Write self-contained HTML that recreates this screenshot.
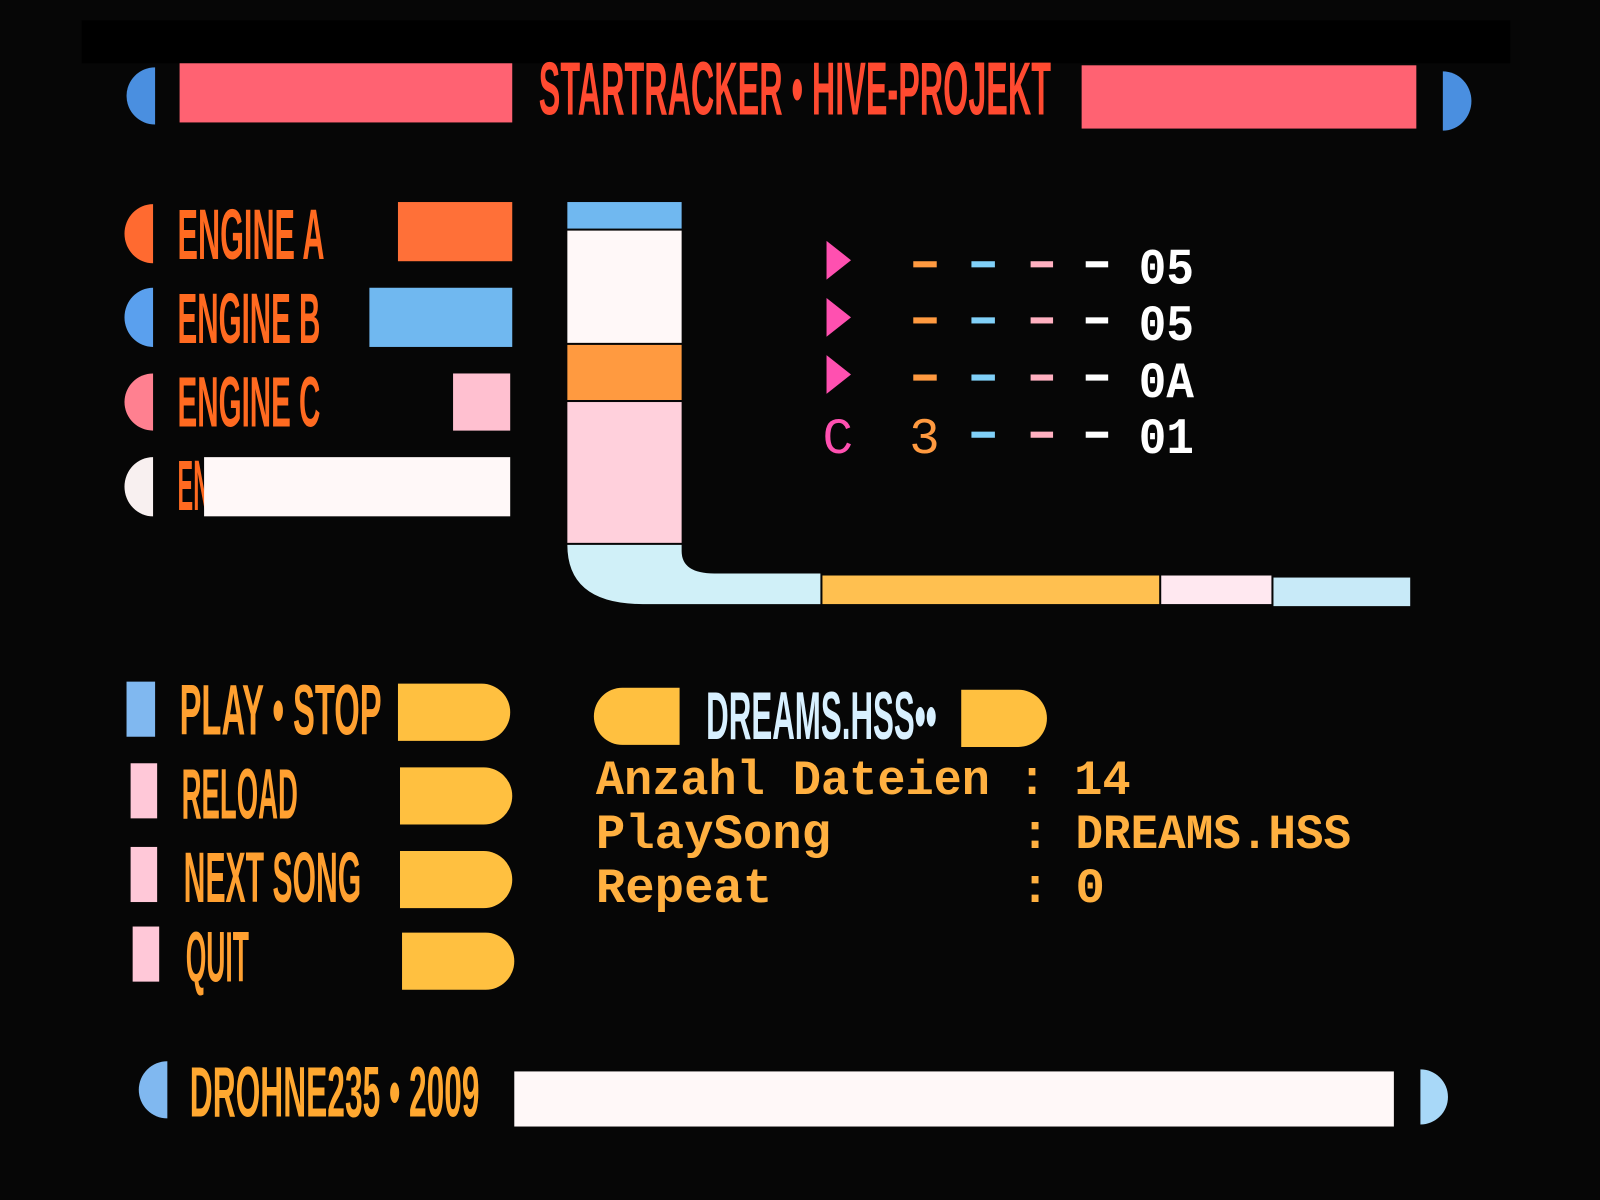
<!DOCTYPE html>
<html><head><meta charset="utf-8"><style>
html,body{margin:0;padding:0;background:#060606;}
svg{display:block}
.c{font-family:"Liberation Sans Narrow","Liberation Sans",sans-serif;font-weight:bold;}
.m{font-family:"Liberation Mono",monospace;}
</style></head><body>
<svg width="1600" height="1200" viewBox="0 0 1568 1176" xmlns="http://www.w3.org/2000/svg">
<rect width="1568" height="1176" fill="#060606"/>
<rect x="80" y="20" width="1400" height="42" fill="#000"/>
<!-- top -->
<path d="M152 66 A28 28 0 0 0 152 122 Z" fill="#4a8fe0"/>
<rect x="176" y="62" width="326" height="58" fill="#ff6272"/>
<text class="c" x="528" y="112" font-size="74" fill="#ff4a30" textLength="502" lengthAdjust="spacingAndGlyphs">STARTRACKER • HIVE-PROJEKT</text>
<rect x="1060" y="64" width="328" height="62" fill="#ff6272"/>
<path d="M1414 70 A28 29 0 0 1 1414 128 Z" fill="#4a8fe0"/>
<!-- engines -->
<path d="M150 200 A28 29 0 0 0 150 258 Z" fill="#ff6a30"/>
<text class="c" x="174" y="254" font-size="70" fill="#ff6a20" textLength="144" lengthAdjust="spacingAndGlyphs">ENGINE A</text>
<rect x="390" y="198" width="112" height="58" fill="#ff7038"/>
<path d="M150 282 A28 29 0 0 0 150 340 Z" fill="#5aa0ee"/>
<text class="c" x="174" y="336" font-size="70" fill="#ff6a20" textLength="140" lengthAdjust="spacingAndGlyphs">ENGINE B</text>
<rect x="362" y="282" width="140" height="58" fill="#70b8f0"/>
<path d="M150 366 A28 28 0 0 0 150 422 Z" fill="#ff8090"/>
<text class="c" x="174" y="418" font-size="70" fill="#ff6a20" textLength="140" lengthAdjust="spacingAndGlyphs">ENGINE C</text>
<rect x="444" y="366" width="56" height="56" fill="#ffc0d0"/>
<path d="M150 448 A28 29 0 0 0 150 506 Z" fill="#f8f0f0"/>
<text class="c" x="174" y="500" font-size="70" fill="#ff6a20" textLength="32" lengthAdjust="spacingAndGlyphs">EN</text>
<rect x="200" y="448" width="300" height="58" fill="#fff8f8"/>
<!-- elbow -->
<rect x="556" y="198" width="112" height="26" fill="#70b8f0"/>
<rect x="556" y="226" width="112" height="110" fill="#fff8f8"/>
<rect x="556" y="338" width="112" height="54" fill="#ff9a40"/>
<rect x="556" y="394" width="112" height="138" fill="#ffd0dc"/>
<path d="M556 534 L668 534 L668 540 Q668 562 700 562 L804 562 L804 592 L630 592 Q556 592 556 534 Z" fill="#d0f0f8"/>
<rect x="806" y="564" width="330" height="28" fill="#ffc050"/>
<rect x="1138" y="564" width="108" height="28" fill="#ffe8f0"/>
<rect x="1248" y="566" width="134" height="28" fill="#c8eaf8"/>
<!-- tracker -->
<g fill="#ff50b0">
<path d="M810 236 L834 255 L810 274 Z"/>
<path d="M810 292 L834 311 L810 330 Z"/>
<path d="M810 348 L834 367 L810 386 Z"/>
</g>
<g>
<rect x="895" y="256" width="23" height="6" fill="#ff9a40"/><rect x="952" y="256" width="23" height="6" fill="#80d0f8"/><rect x="1010" y="256" width="22" height="6" fill="#ffb0c0"/><rect x="1064" y="256" width="22" height="6" fill="#fff"/>
<rect x="895" y="311" width="23" height="6" fill="#ff9a40"/><rect x="952" y="311" width="23" height="6" fill="#80d0f8"/><rect x="1010" y="311" width="22" height="6" fill="#ffb0c0"/><rect x="1064" y="311" width="22" height="6" fill="#fff"/>
<rect x="895" y="367" width="23" height="6" fill="#ff9a40"/><rect x="952" y="367" width="23" height="6" fill="#80d0f8"/><rect x="1010" y="367" width="22" height="6" fill="#ffb0c0"/><rect x="1064" y="367" width="22" height="6" fill="#fff"/>
<rect x="952" y="423" width="23" height="6" fill="#80d0f8"/><rect x="1010" y="423" width="22" height="6" fill="#ffb0c0"/><rect x="1064" y="423" width="22" height="6" fill="#fff"/>
</g>
<g class="m" font-size="50" fill="#fff" font-weight="bold">
<text x="1116" y="278" textLength="54" lengthAdjust="spacingAndGlyphs">05</text>
<text x="1116" y="333" textLength="54" lengthAdjust="spacingAndGlyphs">05</text>
<text x="1116" y="389" textLength="54" lengthAdjust="spacingAndGlyphs">0A</text>
<text x="1116" y="444" textLength="54" lengthAdjust="spacingAndGlyphs">01</text>
<text x="806" y="444" fill="#ff50b0" font-weight="normal">C</text>
<text x="891" y="444" fill="#ff9a40" font-weight="normal">3</text>
</g>
<!-- buttons -->
<rect x="124" y="668" width="28" height="54" fill="#80b8f0"/>
<rect x="128" y="748" width="26" height="54" fill="#ffc8d8"/>
<rect x="128" y="830" width="26" height="54" fill="#ffc8d8"/>
<rect x="130" y="908" width="26" height="54" fill="#ffc8d8"/>
<g class="c" font-size="70" fill="#ffa030">
<text x="176" y="720" textLength="198" lengthAdjust="spacingAndGlyphs">PLAY • STOP</text>
<text x="178" y="802" textLength="114" lengthAdjust="spacingAndGlyphs">RELOAD</text>
<text x="180" y="884" textLength="174" lengthAdjust="spacingAndGlyphs">NEXT SONG</text>
<text x="182" y="962" textLength="62" lengthAdjust="spacingAndGlyphs">QUIT</text>
</g>
<g fill="#ffc040">
<path d="M390 670 L472 670 A28 28 0 0 1 472 726 L390 726 Z"/>
<path d="M392 752 L474 752 A28 28 0 0 1 474 808 L392 808 Z"/>
<path d="M392 834 L474 834 A28 28 0 0 1 474 890 L392 890 Z"/>
<path d="M394 914 L476 914 A28 28 0 0 1 476 970 L394 970 Z"/>
<path d="M666 674 L610 674 A28 28 0 0 0 610 730 L666 730 Z"/>
<path d="M942 676 L998 676 A28 28 0 0 1 998 732 L942 732 Z"/>
</g>
<text class="c" x="692" y="724" font-size="66" fill="#d8f0ff" textLength="226" lengthAdjust="spacingAndGlyphs">DREAMS.HSS••</text>
<g class="m" font-size="48" fill="#ffb040" font-weight="bold">
<text x="584" y="778" textLength="524" lengthAdjust="spacingAndGlyphs">Anzahl Dateien : 14</text>
<text x="584" y="831">PlaySong</text>
<text x="1000" y="831">:</text>
<text x="1054" y="831" textLength="270" lengthAdjust="spacingAndGlyphs">DREAMS.HSS</text>
<text x="584" y="884">Repeat</text>
<text x="1000" y="884">:</text>
<text x="1054" y="884">0</text>
</g>
<!-- footer -->
<path d="M164 1040 A28 28 0 0 0 164 1096 Z" fill="#80b8f0"/>
<text class="c" x="186" y="1094" font-size="70" fill="#ffa830" textLength="284" lengthAdjust="spacingAndGlyphs">DROHNE235 • 2009</text>
<rect x="504" y="1050" width="862" height="54" fill="#fff8f8"/>
<path d="M1392 1048 A27 27 0 0 1 1392 1102 Z" fill="#a8d8f8"/>
</svg>
</body></html>
